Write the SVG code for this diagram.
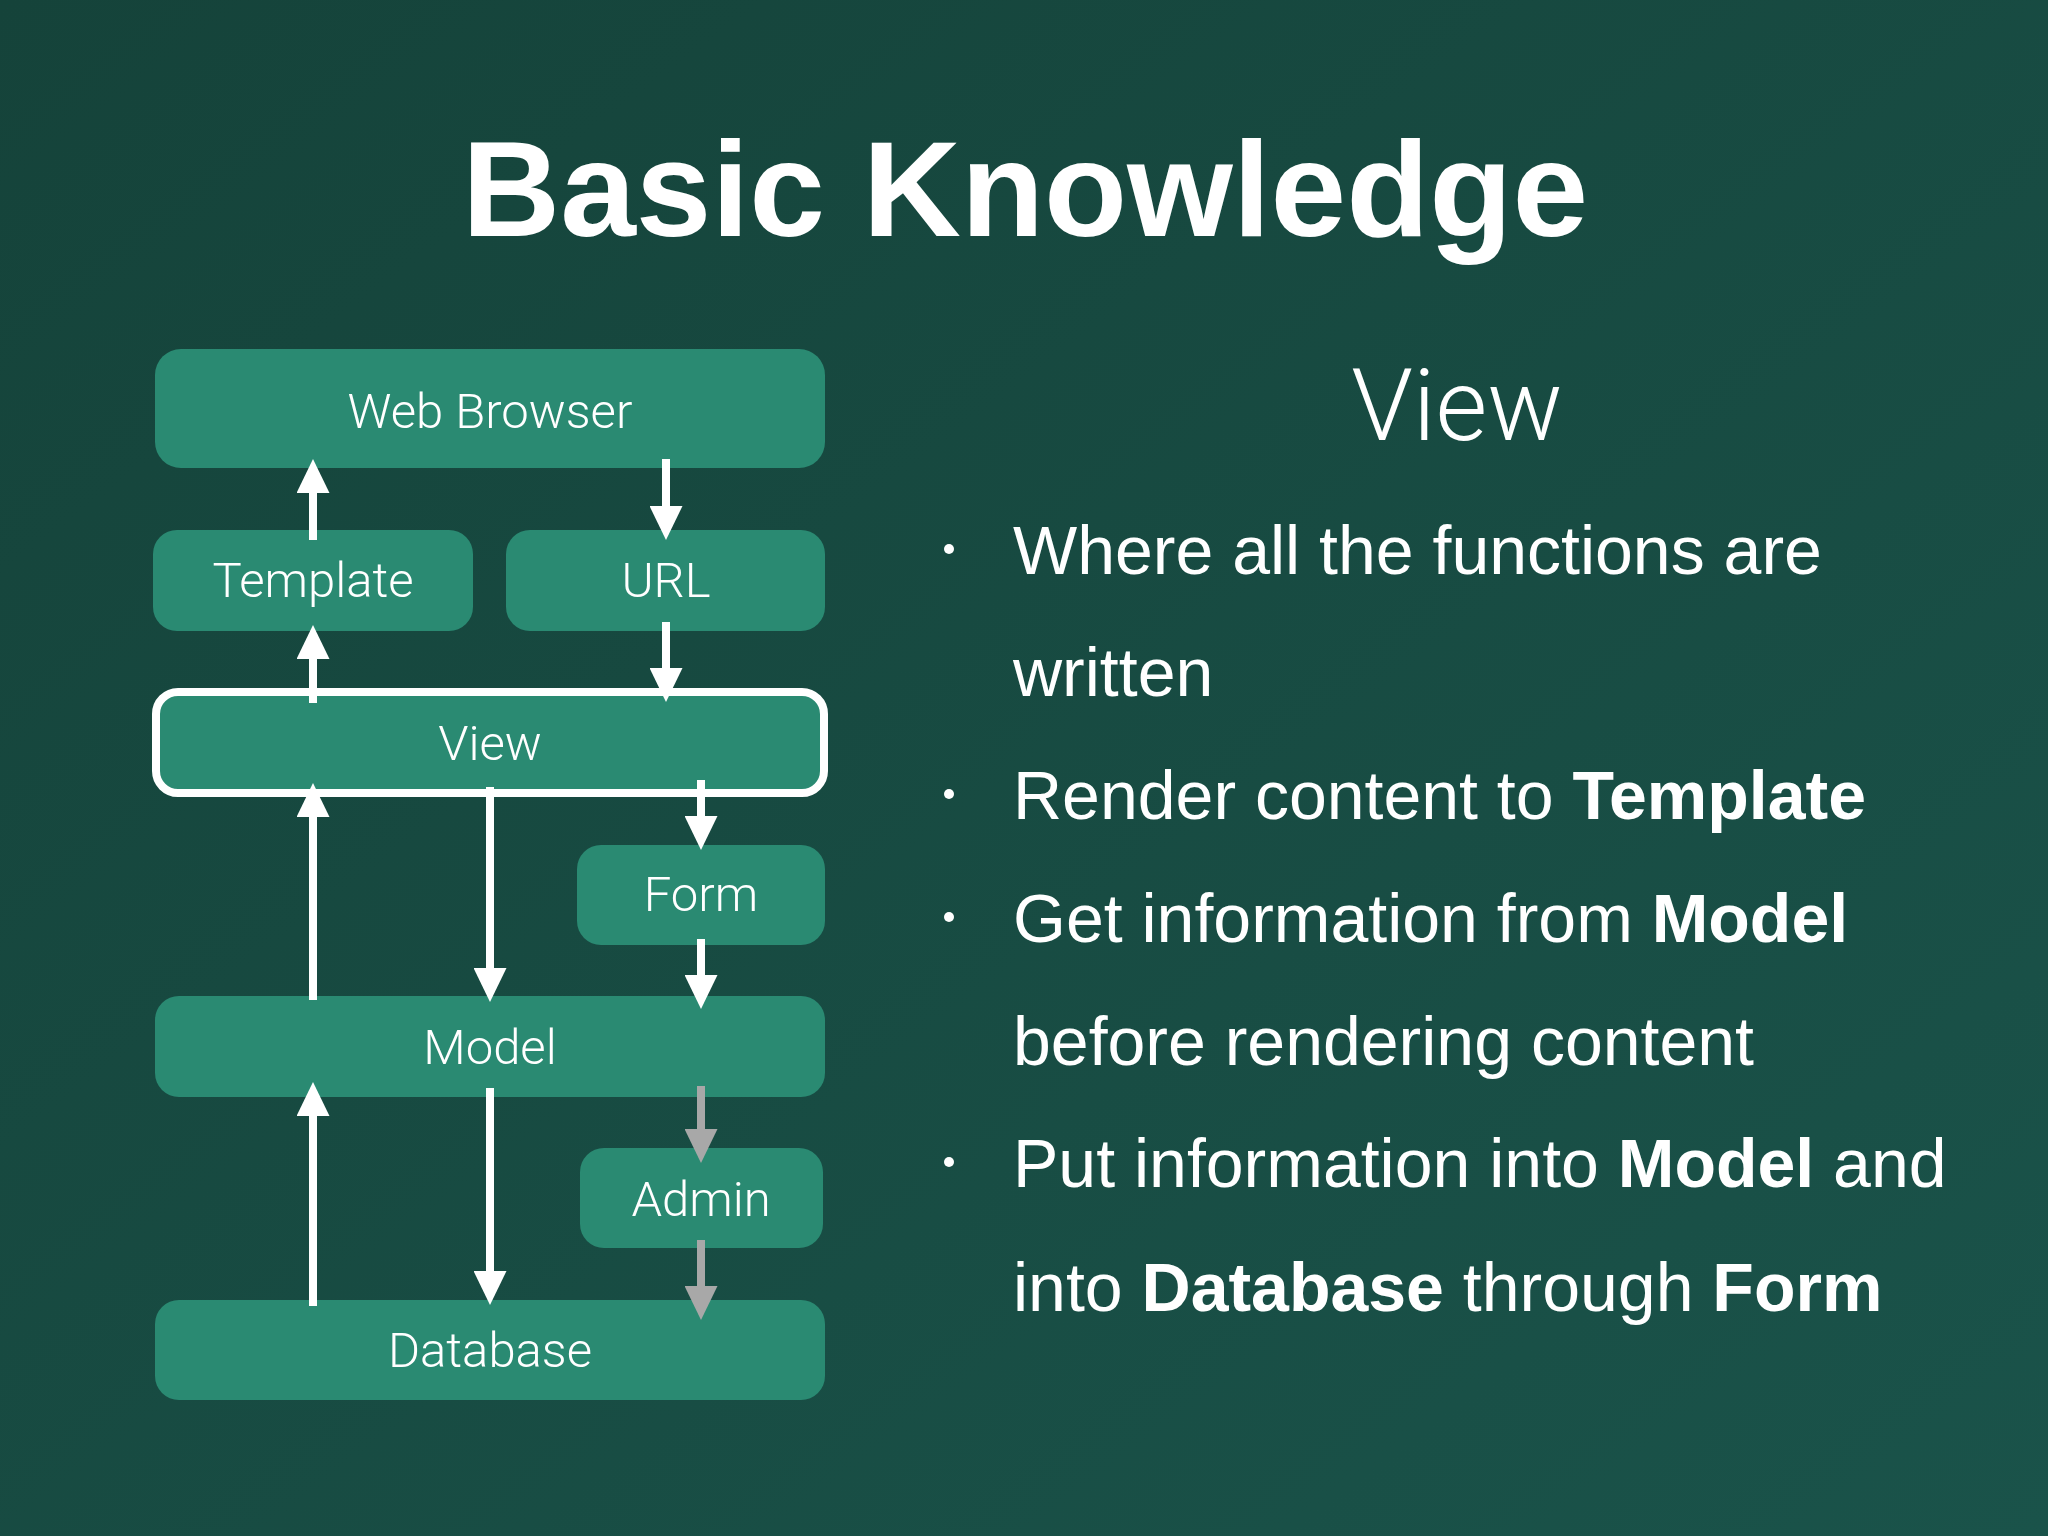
<svg xmlns="http://www.w3.org/2000/svg" width="2048" height="1536" viewBox="0 0 2048 1536">
  <defs>
    <linearGradient id="bg" x1="0" y1="0" x2="1" y2="1">
      <stop offset="0" stop-color="#15433a"/>
      <stop offset="1" stop-color="#1a534a"/>
    </linearGradient>
    <marker id="ah" viewBox="0 0 34 33" markerWidth="34" markerHeight="33" refX="14" refY="16.5" orient="auto" markerUnits="userSpaceOnUse">
      <path d="M0,0 L34,16.5 L0,33 Z" fill="#ffffff"/>
    </marker>
    <marker id="ahg" viewBox="0 0 34 33" markerWidth="34" markerHeight="33" refX="14" refY="16.5" orient="auto" markerUnits="userSpaceOnUse">
      <path d="M0,0 L34,16.5 L0,33 Z" fill="#a8a8a8"/>
    </marker>
    <style>
      .box { fill: #2a8a72; }
      .sel { fill: #2a8a72; stroke: #ffffff; stroke-width: 8; }
      .lbl { font-family: Roboto, "Liberation Sans", sans-serif; font-weight: 300; font-size: 49px; fill: #ffffff; text-anchor: middle; }
      .w { stroke: #ffffff; stroke-width: 8; fill: none; marker-end: url(#ah); }
      .g { stroke: #a8a8a8; stroke-width: 8; fill: none; marker-end: url(#ahg); }
      .title { font-family: "Liberation Sans", Arial, sans-serif; font-weight: bold; font-size: 136px; fill: #ffffff; text-anchor: middle; }
      .sub { font-family: Roboto, "Liberation Sans", sans-serif; font-weight: 300; font-size: 100px; fill: #ffffff; text-anchor: middle; }
      .body { font-family: "Liberation Sans", Arial, sans-serif; font-size: 68px; fill: #ffffff; }
      .b { font-weight: bold; }
      .dot { fill: #ffffff; }
    </style>
  </defs>
  <rect x="0" y="0" width="2048" height="1536" fill="url(#bg)"/>

  <text class="title" x="1025" y="236">Basic Knowledge</text>

  <g id="node-webbrowser">
    <rect class="box" x="155" y="349" width="670" height="119" rx="26"/>
    <text class="lbl" x="490" y="428">Web Browser</text>
  </g>
  <g id="node-template">
    <rect class="box" x="153" y="530" width="320" height="101" rx="24"/>
    <text class="lbl" x="313" y="597">Template</text>
  </g>
  <g id="node-url">
    <rect class="box" x="506" y="530" width="319" height="101" rx="24"/>
    <text class="lbl" x="666" y="597">URL</text>
  </g>
  <g id="node-view">
    <rect class="sel" x="156" y="692" width="668" height="101" rx="22"/>
    <text class="lbl" x="490" y="760">View</text>
  </g>
  <g id="node-form">
    <rect class="box" x="577" y="845" width="248" height="100" rx="24"/>
    <text class="lbl" x="701" y="911">Form</text>
  </g>
  <g id="node-model">
    <rect class="box" x="155" y="996" width="670" height="101" rx="24"/>
    <text class="lbl" x="490" y="1064">Model</text>
  </g>
  <g id="node-admin">
    <rect class="box" x="580" y="1148" width="243" height="100" rx="24"/>
    <text class="lbl" x="701" y="1216">Admin</text>
  </g>
  <g id="node-database">
    <rect class="box" x="155" y="1300" width="670" height="100" rx="24"/>
    <text class="lbl" x="490" y="1367">Database</text>
  </g>

  <g id="connectors">
    <line class="w" x1="313" y1="540" x2="313" y2="479"/>
    <line class="w" x1="666" y1="459" x2="666" y2="520"/>
    <line class="w" x1="313" y1="703" x2="313" y2="645"/>
    <line class="w" x1="666" y1="622" x2="666" y2="682"/>
    <line class="w" x1="313" y1="1000" x2="313" y2="803"/>
    <line class="w" x1="490" y1="787" x2="490" y2="982"/>
    <line class="w" x1="701" y1="780" x2="701" y2="830"/>
    <line class="w" x1="701" y1="939" x2="701" y2="989"/>
    <line class="g" x1="701" y1="1086" x2="701" y2="1143"/>
    <line class="g" x1="701" y1="1240" x2="701" y2="1300"/>
    <line class="w" x1="313" y1="1306" x2="313" y2="1102"/>
    <line class="w" x1="490" y1="1088" x2="490" y2="1285"/>
  </g>

  <text class="sub" x="1457" y="440">View</text>

  <g id="bullets">
    <circle class="dot" cx="949" cy="549" r="5"/>
    <circle class="dot" cx="949" cy="794" r="5"/>
    <circle class="dot" cx="949" cy="917" r="5"/>
    <circle class="dot" cx="949" cy="1162" r="5"/>
    <text class="body" x="1013" y="574">Where all the functions are</text>
    <text class="body" x="1013" y="696">written</text>
    <text class="body" x="1013" y="819">Render content to <tspan class="b">Template</tspan></text>
    <text class="body" x="1013" y="942">Get information from <tspan class="b">Model</tspan></text>
    <text class="body" x="1013" y="1065">before rendering content</text>
    <text class="body" x="1013" y="1187">Put information into <tspan class="b">Model</tspan> and</text>
    <text class="body" x="1013" y="1311">into <tspan class="b">Database</tspan> through <tspan class="b">Form</tspan></text>
  </g>
</svg>
